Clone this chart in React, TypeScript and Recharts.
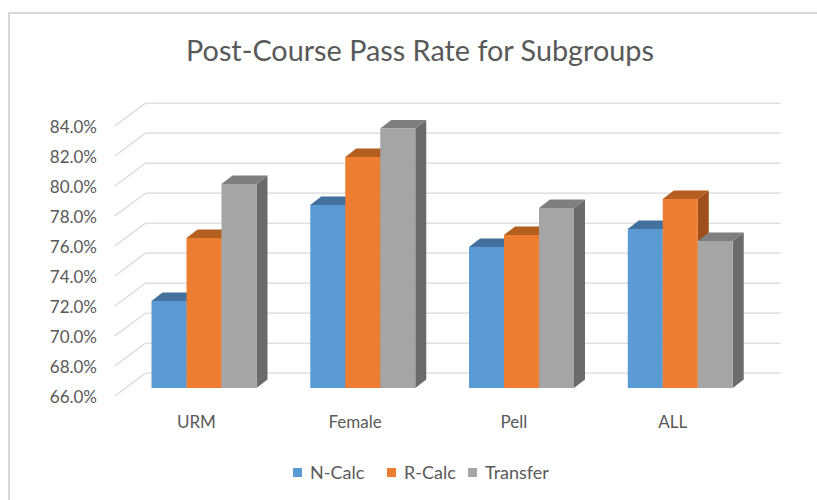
import { BarChart, Bar, XAxis, YAxis, CartesianGrid } from "recharts";

const groups = ["URM", "Female", "Pell", "ALL"];
const nCalc = [71.8, 78.2, 75.4, 76.6];
const rCalc = [76.0, 81.4, 76.2, 78.6];
const transfer = [79.6, 83.3, 78.0, 75.8];
const yTicks = [66, 68, 70, 72, 74, 76, 78, 80, 82, 84];

const seriesNames = ["N-Calc", "R-Calc", "Transfer"];
const seriesKeys = ["nCalc", "rCalc", "transfer"];
// front, top, side
const seriesColors = [
  ["#5B9BD5", "#41719C", "#3A6690"],
  ["#ED7D31", "#B45F20", "#9E4F1B"],
  ["#A5A5A5", "#7F7F7F", "#6B6B6B"],
];

const data = groups.map((g, i) => ({
  name: g,
  nCalc: nCalc[i],
  rCalc: rCalc[i],
  transfer: transfer[i],
}));

const FONT = "Lato, 'Open Sans', sans-serif";
const TEXT = "#595959";
const GRID = "#d9d9d9";

const PLOT_LEFT = 125;
const PLOT_RIGHT = 760;
const PLOT_TOP = 118;
const PLOT_BOTTOM = 388;

// offsets of the back wall / front plane from the plane the bars stand in
const BACK_DX = 20.5;
const BACK_DY = -14.8;
const FRONT_DX = -10.3;
const FRONT_DY = 8;
// depth of each bar
const BAR_DX = 11;
const BAR_DY = 8.5;

const LEGEND_X = [293, 387, 468];

function makeShape(colors: string[]) {
  return (props: any) => {
    const { x, y, width, height } = props;
    if (height == null || width == null) return <g />;
    const [front, top, side] = colors;
    const r = x + width;
    const b = y + height;
    return (
      <g>
        <polygon
          points={`${r},${y} ${r + BAR_DX},${y - BAR_DY} ${r + BAR_DX},${b - BAR_DY} ${r},${b}`}
          fill={side}
        />
        <polygon
          points={`${x},${y} ${x + BAR_DX},${y - BAR_DY} ${r + BAR_DX},${y - BAR_DY} ${r},${y}`}
          fill={top}
        />
        <rect x={x} y={y} width={width} height={height} fill={front} />
      </g>
    );
  };
}

function GridLine(props: any) {
  const y = props.y1;
  return (
    <g key={props.key}>
      <line
        x1={PLOT_LEFT + FRONT_DX}
        y1={y + FRONT_DY}
        x2={PLOT_LEFT + BACK_DX}
        y2={y + BACK_DY}
        stroke={GRID}
        strokeWidth={1.3}
      />
      <line
        x1={PLOT_LEFT + BACK_DX}
        y1={y + BACK_DY}
        x2={PLOT_RIGHT + BACK_DX}
        y2={y + BACK_DY}
        stroke={GRID}
        strokeWidth={1.3}
      />
    </g>
  );
}

function YTick(props: any) {
  const { y, payload } = props;
  return (
    <text
      x={97}
      y={y + FRONT_DY}
      textAnchor="end"
      dominantBaseline="central"
      fontFamily={FONT}
      fontSize={17}
      fill={TEXT}
    >
      {`${Number(payload.value).toFixed(1)}%`}
    </text>
  );
}

function XTick(props: any) {
  const { x, payload } = props;
  return (
    <text
      x={x - 8}
      y={428}
      textAnchor="middle"
      fontFamily={FONT}
      fontSize={17}
      fill={TEXT}
    >
      {payload.value}
    </text>
  );
}

export default function App() {
  return (
    <div
      style={{
        position: "absolute",
        left: 0,
        top: 0,
        width: 817,
        height: 500,
        overflow: "hidden",
        background: "#fff",
      }}
    >
      <div
        style={{
          position: "absolute",
          left: 8,
          top: 12,
          width: 840,
          height: 520,
          border: "2px solid #d9d9d9",
          boxSizing: "border-box",
        }}
      />
      <div
        style={{
          position: "absolute",
          left: 0,
          width: 840,
          top: 35,
          textAlign: "center",
          fontFamily: FONT,
          fontSize: 28.8,
          color: TEXT,
          lineHeight: "30px",
        }}
      >
        Post-Course Pass Rate for Subgroups
      </div>
      <div style={{ position: "absolute", left: 0, top: 0 }}>
        <BarChart
          width={817}
          height={500}
          data={data}
          margin={{ top: PLOT_TOP, right: 817 - PLOT_RIGHT, left: 0, bottom: 0 }}
          barCategoryGap="16.7%"
          barGap={0}
        >
          <CartesianGrid vertical={false} horizontal={GridLine} />
          <XAxis
            dataKey="name"
            height={500 - PLOT_BOTTOM}
            axisLine={false}
            tickLine={false}
            tick={XTick}
            interval={0}
          />
          <YAxis
            width={PLOT_LEFT}
            domain={[66, 84]}
            ticks={yTicks}
            axisLine={false}
            tickLine={false}
            tick={YTick}
          />
          {seriesKeys.map((k, i) => (
            <Bar
              key={k}
              dataKey={k}
              name={seriesNames[i]}
              fill={seriesColors[i][0]}
              shape={makeShape(seriesColors[i])}
              isAnimationActive={false}
            />
          ))}
        </BarChart>
      </div>
      {seriesNames.map((n, i) => (
        <div
          key={n}
          style={{
            position: "absolute",
            left: LEGEND_X[i],
            top: 461,
            height: 22,
            display: "flex",
            alignItems: "center",
            fontFamily: FONT,
            fontSize: 18,
            color: TEXT,
            whiteSpace: "nowrap",
          }}
        >
          <span
            style={{
              display: "inline-block",
              width: 9,
              height: 9,
              background: seriesColors[i][0],
              marginRight: 8,
            }}
          />
          <span>{n}</span>
        </div>
      ))}
    </div>
  );
}
